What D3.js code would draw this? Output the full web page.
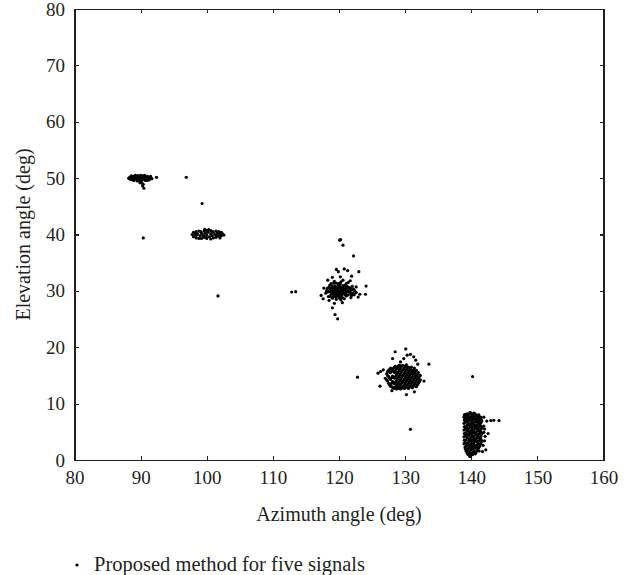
<!doctype html>
<meta charset=utf8>
<title>Azimuth / elevation estimates</title>
<style>
  body {
    margin: 0;
    background: white;
  }

  text {
    font-family: "Liberation Serif", "DejaVu Serif", serif;
    fill: #231f20;
  }

  .axis path,
  .axis line {
    stroke: #231f20;
    stroke-width: 1.2;
    shape-rendering: crispEdges;
  }

  .axis text {
    font-size: 19px;
  }

  .title {
    font-size: 20px;
  }

  .legend text {
    font-size: 20.5px;
  }

  .dot {
    fill: black;
  }
</style>
<svg width=639 height=575></svg>
<script src=https://d3js.org/d3.v7.min.js></script>
<script>
  // axis ticks
  var xTicks = [80, 90, 100, 110, 120, 130, 140, 150, 160];
  var yTicks = [0, 10, 20, 30, 40, 50, 60, 70, 80];

  // estimates [azimuth, elevation], one array per signal
  var signal1 = [
    [88.2, 50.0], [88.4, 49.8], [88.4, 50.2], [88.6, 50.4], [88.7, 49.7], [88.8, 50.0],
    [88.9, 50.3], [89.0, 49.6], [89.1, 50.1], [89.2, 50.5], [89.3, 49.8], [89.4, 50.2],
    [89.5, 49.5], [89.6, 50.0], [89.7, 50.4], [89.8, 49.7], [89.9, 50.2], [90.0, 49.9],
    [90.0, 50.5], [90.1, 49.5], [90.2, 50.1], [90.3, 49.7], [90.4, 50.3], [90.5, 49.9],
    [90.6, 50.5], [90.7, 49.6], [90.8, 50.1], [90.9, 49.8], [91.0, 50.3], [91.1, 49.9],
    [91.2, 50.2], [91.3, 49.7], [91.4, 50.0], [91.5, 50.3], [91.7, 49.9], [89.5, 50.4],
    [90.3, 50.4], [89.0, 50.0], [91.0, 49.6], [90.0, 49.3], [90.2, 49.1], [90.4, 48.9],
    [90.3, 48.6], [90.5, 48.2], [89.9, 49.2],
    [92.4, 50.15], [96.9, 50.15], [99.3, 45.5], [90.4, 39.4]
  ];

  var signal2 = [
    [97.8, 40.0], [98.0, 39.6], [98.0, 40.4], [98.2, 39.9], [98.4, 39.4], [98.4, 40.5],
    [98.6, 40.1], [98.8, 39.3], [98.8, 40.6], [99.0, 39.8], [99.2, 40.3], [99.2, 39.3],
    [99.4, 40.0], [99.6, 39.5], [99.6, 40.6], [99.8, 40.2], [100.0, 39.3], [100.0, 39.9],
    [100.0, 40.7], [100.2, 40.4], [100.4, 39.6], [100.6, 40.1], [100.6, 39.2], [100.6, 40.7],
    [100.8, 39.8], [101.0, 40.4], [101.0, 39.4], [101.2, 40.0], [101.4, 39.5], [101.4, 40.6],
    [101.6, 40.2], [101.8, 39.7], [101.8, 40.5], [102.0, 39.4], [102.0, 40.1], [102.2, 39.8],
    [102.2, 40.4], [102.4, 40.1], [102.6, 39.9], [99.7, 40.9], [100.3, 40.85], [98.5, 39.9],
    [99.1, 40.5], [99.9, 39.6], [100.9, 40.5], [101.5, 39.9], [98.3, 40.2], [99.5, 39.8],
    [101.7, 29.1]
  ];

  var signal3 = [
    [118.0, 29.6], [118.2, 30.4], [118.4, 29.0], [118.5, 30.0], [118.6, 31.0], [118.8, 29.4],
    [118.9, 30.6], [119.0, 28.7], [119.1, 30.1], [119.2, 31.4], [119.3, 29.2], [119.4, 29.9],
    [119.5, 30.7], [119.6, 28.5], [119.7, 30.3], [119.8, 29.5], [119.9, 31.1], [120.0, 30.0],
    [120.0, 28.9], [120.1, 29.6], [120.2, 30.5], [120.3, 31.6], [120.4, 29.1], [120.5, 30.2],
    [120.6, 29.7], [120.7, 30.9], [120.8, 28.6], [120.9, 30.4], [121.0, 29.5], [121.1, 31.3],
    [121.2, 30.0], [121.4, 29.3], [121.5, 30.6], [121.7, 29.8], [121.9, 30.2], [122.1, 29.6],
    [122.4, 30.0], [119.6, 29.8], [120.3, 30.0], [120.1, 30.8], [119.9, 29.2], [119.2, 30.5],
    [120.7, 30.1], [118.6, 29.9], [121.3, 29.9],
    [118.7, 30.3], [119.0, 29.8], [119.1, 29.4], [119.3, 30.3], [119.5, 29.5], [119.5, 30.2],
    [119.7, 29.1], [119.8, 30.6], [120.0, 29.4], [120.2, 29.9], [120.2, 29.2], [120.4, 30.6],
    [120.5, 29.5], [120.8, 29.9], [120.9, 29.3], [121.1, 30.4], [121.3, 30.7], [121.6, 30.3],
    [121.8, 29.5], [119.4, 30.9], [120.6, 30.6], [118.9, 29.8], [119.8, 30.1], [120.4, 29.8],
    [121.0, 30.1], [118.3, 29.8], [122.2, 30.3], [122.6, 29.7], [118.1, 30.0],
    [118.4, 30.6], [118.7, 29.0], [118.8, 31.3], [119.0, 30.9], [119.1, 28.9], [119.3, 31.7],
    [119.5, 28.9], [119.6, 31.4], [119.7, 29.7], [119.9, 30.4], [120.0, 31.3], [120.1, 28.7],
    [120.2, 31.2], [120.4, 30.3], [120.5, 28.8], [120.6, 30.9], [120.8, 29.5], [120.9, 31.0],
    [121.1, 29.1], [121.2, 30.8], [121.4, 31.5], [121.5, 29.8], [121.7, 30.5], [121.9, 29.2],
    [122.0, 30.8], [122.3, 29.3], [119.2, 29.7], [118.9, 30.0], [121.8, 28.8], [120.3, 28.4],
    [117.3, 29.2], [117.7, 30.5], [118.3, 31.9], [119.0, 27.0], [119.4, 25.8], [119.8, 25.05],
    [119.3, 27.8], [120.5, 27.9], [119.6, 33.8], [119.9, 33.4], [120.8, 33.9], [121.3, 33.6],
    [121.9, 32.6], [120.2, 32.5], [119.0, 32.4], [122.6, 30.7], [123.0, 33.4], [124.1, 30.85],
    [124.0, 29.4], [123.15, 29.4], [122.2, 36.2], [120.1, 39.0], [120.25, 39.1], [120.6, 38.1],
    [112.85, 29.8], [113.45, 29.85], [117.6, 28.6], [122.9, 28.9], [121.7, 31.8], [120.6, 31.9],
    [118.5, 28.3]
  ];

  var signal4 = [
    [127.2, 14.2], [127.2, 15.3], [127.5, 13.6], [127.5, 14.8], [127.5, 15.9],
    [127.8, 13.1], [127.8, 14.3], [127.8, 15.5], [127.8, 16.3],
    [128.1, 12.9], [128.1, 13.9], [128.1, 14.9], [128.1, 16.0],
    [128.4, 12.7], [128.4, 13.5], [128.4, 14.5], [128.4, 15.5], [128.4, 16.5],
    [128.7, 12.6], [128.7, 13.1], [128.7, 14.1], [128.7, 15.1], [128.7, 16.2],
    [129.0, 12.8], [129.0, 13.7], [129.0, 14.7], [129.0, 15.7], [129.0, 16.7],
    [129.3, 12.6], [129.3, 13.3], [129.3, 14.3], [129.3, 15.3], [129.3, 16.3],
    [129.6, 12.9], [129.6, 13.9], [129.6, 14.9], [129.6, 15.9], [129.6, 16.8],
    [129.9, 12.7], [129.9, 13.4], [129.9, 14.4], [129.9, 15.4], [129.9, 16.4],
    [130.2, 13.0], [130.2, 14.0], [130.2, 15.0], [130.2, 16.0], [130.2, 16.9],
    [130.5, 12.7], [130.5, 13.6], [130.5, 14.6], [130.5, 15.6], [130.5, 16.5],
    [130.8, 13.2], [130.8, 14.2], [130.8, 15.2], [130.8, 16.2],
    [131.1, 12.8], [131.1, 13.8], [131.1, 14.8], [131.1, 15.8],
    [131.4, 13.4], [131.4, 14.4], [131.4, 15.4], [131.4, 16.3],
    [131.7, 13.0], [131.7, 14.0], [131.7, 15.0], [131.7, 15.9],
    [132.0, 13.6], [132.0, 14.6], [132.0, 15.5], [132.3, 14.2], [132.3, 15.0],
    [127.35, 14.0], [127.35, 15.0], [127.35, 15.7],
    [127.65, 13.3], [127.65, 14.5], [127.65, 15.6], [127.65, 16.1],
    [127.95, 13.0], [127.95, 13.6], [127.95, 14.6], [127.95, 15.7],
    [128.25, 12.8], [128.25, 13.7], [128.25, 14.7], [128.25, 15.8], [128.25, 16.3],
    [128.55, 12.9], [128.55, 13.8], [128.55, 14.8], [128.55, 15.8], [128.55, 16.6],
    [128.85, 12.7], [128.85, 13.4], [128.85, 14.4], [128.85, 15.4], [128.85, 16.4],
    [129.15, 13.0], [129.15, 14.0], [129.15, 15.0], [129.15, 16.0], [129.15, 16.8],
    [129.45, 12.7], [129.45, 13.6], [129.45, 14.6], [129.45, 15.6], [129.45, 16.6],
    [129.75, 13.1], [129.75, 14.1], [129.75, 15.1], [129.75, 16.1],
    [130.05, 12.8], [130.05, 13.7], [130.05, 14.7], [130.05, 15.7], [130.05, 16.7],
    [130.35, 13.3], [130.35, 14.3], [130.35, 15.3], [130.35, 16.3],
    [130.65, 12.9], [130.65, 13.9], [130.65, 14.9], [130.65, 15.9],
    [130.95, 13.5], [130.95, 14.5], [130.95, 15.5], [130.95, 16.5],
    [131.25, 13.1], [131.25, 14.1], [131.25, 15.1], [131.25, 16.0],
    [131.55, 13.7], [131.55, 14.7], [131.55, 15.7],
    [131.85, 13.3], [131.85, 14.3], [131.85, 15.2], [132.15, 13.9], [132.15, 14.8],
    [130.1, 19.7], [128.5, 19.2], [128.1, 18.0], [133.6, 17.0], [125.9, 15.4], [126.3, 15.7],
    [126.7, 16.0], [127.0, 14.5], [126.2, 13.1], [132.85, 14.0], [130.3, 18.6], [130.8, 18.75],
    [131.3, 18.3], [131.6, 17.7], [129.8, 18.0], [131.4, 12.1], [130.2, 11.6], [130.8, 5.45],
    [129.3, 17.4], [131.9, 17.0], [128.0, 12.3], [122.8, 14.7]
  ];

  var signal5 = [
    [138.9, 2.9], [138.9, 4.1], [138.9, 5.3], [138.9, 6.5], [138.9, 7.6],
    [139.2, 1.6], [139.2, 2.4], [139.2, 3.5], [139.2, 4.7], [139.2, 5.9], [139.2, 7.1], [139.2, 8.1],
    [139.5, 1.0], [139.5, 2.0], [139.5, 3.0], [139.5, 4.2], [139.5, 5.4], [139.5, 6.6], [139.5, 7.8],
    [139.8, 0.6], [139.8, 1.5], [139.8, 2.6], [139.8, 3.7], [139.8, 4.9], [139.8, 6.1], [139.8, 7.3], [139.8, 8.4],
    [140.1, 1.2], [140.1, 2.2], [140.1, 3.3], [140.1, 4.4], [140.1, 5.6], [140.1, 6.8], [140.1, 8.0],
    [140.4, 1.6], [140.4, 2.8], [140.4, 3.9], [140.4, 5.1], [140.4, 6.3], [140.4, 7.5], [140.4, 8.3],
    [140.7, 1.3], [140.7, 2.4], [140.7, 3.6], [140.7, 4.7], [140.7, 5.9], [140.7, 7.0], [140.7, 8.0],
    [141.0, 1.8], [141.0, 3.0], [141.0, 4.2], [141.0, 5.4], [141.0, 6.6], [141.0, 7.7],
    [141.3, 2.5], [141.3, 3.8], [141.3, 5.0], [141.3, 6.2], [141.3, 7.3],
    [141.6, 3.3], [141.6, 4.6], [141.6, 5.7], [141.6, 6.9], [141.9, 4.9], [141.9, 6.0],
    [139.05, 2.3], [139.05, 3.5], [139.05, 4.7], [139.05, 5.9], [139.05, 7.0], [139.05, 8.0],
    [139.35, 1.3], [139.35, 2.6], [139.35, 3.9], [139.35, 5.1], [139.35, 6.2], [139.35, 7.4],
    [139.65, 0.9], [139.65, 2.1], [139.65, 3.3], [139.65, 4.5], [139.65, 5.7], [139.65, 6.9], [139.65, 8.1],
    [139.95, 0.8], [139.95, 1.8], [139.95, 2.9], [139.95, 4.0], [139.95, 5.2], [139.95, 6.4], [139.95, 7.6], [139.95, 8.3],
    [140.25, 1.0], [140.25, 2.0], [140.25, 3.1], [140.25, 4.2], [140.25, 5.4], [140.25, 6.6], [140.25, 7.8],
    [140.55, 1.4], [140.55, 2.6], [140.55, 3.8], [140.55, 4.9], [140.55, 6.1], [140.55, 7.3], [140.55, 8.2],
    [140.85, 1.6], [140.85, 2.7], [140.85, 3.9], [140.85, 5.1], [140.85, 6.2], [140.85, 7.4],
    [141.15, 2.2], [141.15, 3.4], [141.15, 4.6], [141.15, 5.8], [141.15, 7.0], [141.15, 8.0],
    [141.45, 2.9], [141.45, 4.2], [141.45, 5.4], [141.45, 6.6], [141.45, 7.6],
    [138.95, 3.5], [138.95, 4.7], [138.95, 5.9], [138.95, 7.1], [138.95, 8.0],
    [139.1, 2.0], [139.1, 3.0], [139.1, 4.3], [139.1, 5.5], [139.1, 6.7], [139.1, 7.7],
    [139.4, 1.7], [139.4, 2.9], [139.4, 4.5], [139.4, 5.7], [139.4, 7.0], [139.4, 8.2],
    [139.7, 1.2], [139.7, 2.4], [139.7, 3.6], [139.7, 5.0], [139.7, 6.3], [139.7, 7.5],
    [140.0, 1.0], [140.0, 2.4], [140.0, 3.5], [140.0, 4.7], [140.0, 5.9], [140.0, 7.1], [140.0, 8.2],
    [140.3, 1.4], [140.3, 2.5], [140.3, 3.6], [140.3, 4.8], [140.3, 6.0], [140.3, 7.2],
    [140.6, 1.1], [140.6, 2.1], [140.6, 3.3], [140.6, 4.4], [140.6, 5.6], [140.6, 6.7], [140.6, 7.8],
    [140.9, 2.2], [140.9, 3.3], [140.9, 4.5], [140.9, 5.7], [140.9, 6.9], [140.9, 7.9],
    [141.2, 1.6], [141.2, 2.8], [141.2, 4.0], [141.2, 5.2], [141.2, 6.4], [141.2, 7.6],
    [141.5, 3.6], [141.5, 4.9], [141.5, 6.0], [141.5, 7.2],
    [141.8, 2.6], [142.0, 5.5], [141.9, 7.6], [142.1, 4.2],
    [142.2, 1.8], [142.55, 4.7], [142.35, 6.9], [142.95, 7.0], [143.4, 7.05], [144.2, 7.0],
    [142.0, 3.4], [141.7, 1.5], [140.2, 14.8]
  ];

  var legendLabel = 'Proposed method for five signals';

  var svg = d3.select('svg');
  var margin = {top: 9, right: 35.5, bottom: 115, left: 74.5};
  var width = svg.attr('width') - margin.left - margin.right;
  var height = svg.attr('height') - margin.top - margin.bottom;
  var g = svg.append('g').attr('transform', 'translate(' + margin.left + ',' + margin.top + ')');

  var x = d3.scaleLinear().domain([80, 160]).range([0, width]);
  var y = d3.scaleLinear().domain([0, 80]).range([height, 0]);

  var points = [].concat(signal1, signal2, signal3, signal4, signal5);

  // box with inward ticks on all four sides
  g.append('g')
    .attr('class', 'axis')
    .attr('transform', 'translate(0,' + height + ')')
    .call(d3.axisBottom(x).tickValues(xTicks).tickSizeInner(-4).tickSizeOuter(0).tickPadding(11));

  g.append('g')
    .attr('class', 'axis')
    .call(d3.axisLeft(y).tickValues(yTicks).tickSizeInner(-4).tickSizeOuter(0).tickPadding(9.5));

  g.append('g')
    .attr('class', 'axis')
    .call(d3.axisTop(x).tickValues(xTicks).tickSizeInner(-4).tickSizeOuter(0).tickFormat(''));

  g.append('g')
    .attr('class', 'axis')
    .attr('transform', 'translate(' + width + ',0)')
    .call(d3.axisRight(y).tickValues(yTicks).tickSizeInner(-4).tickSizeOuter(0).tickFormat(''));

  g.selectAll('.axis .domain').attr('fill', 'none');

  g.selectAll('.dot')
    .data(points)
    .enter()
    .append('circle')
    .attr('class', 'dot')
    .attr('cx', function(d) { return x(d[0]); })
    .attr('cy', function(d) { return y(d[1]); })
    .attr('r', 1.6);

  svg.append('text')
    .attr('class', 'title')
    .attr('x', margin.left + width / 2)
    .attr('y', 521)
    .attr('text-anchor', 'middle')
    .text('Azimuth angle (deg)');

  svg.append('text')
    .attr('class', 'title')
    .attr('transform', 'translate(30,' + (margin.top + height / 2) + ') rotate(-90)')
    .attr('text-anchor', 'middle')
    .text('Elevation angle (deg)');

  // legend
  var legend = svg.append('g').attr('class', 'legend').attr('transform', 'translate(77,565)');
  legend.append('circle').attr('class', 'dot').attr('r', 1.6);
  legend.append('text')
    .attr('x', 17)
    .attr('dy', '0.3em')
    .text(legendLabel);
</script>
